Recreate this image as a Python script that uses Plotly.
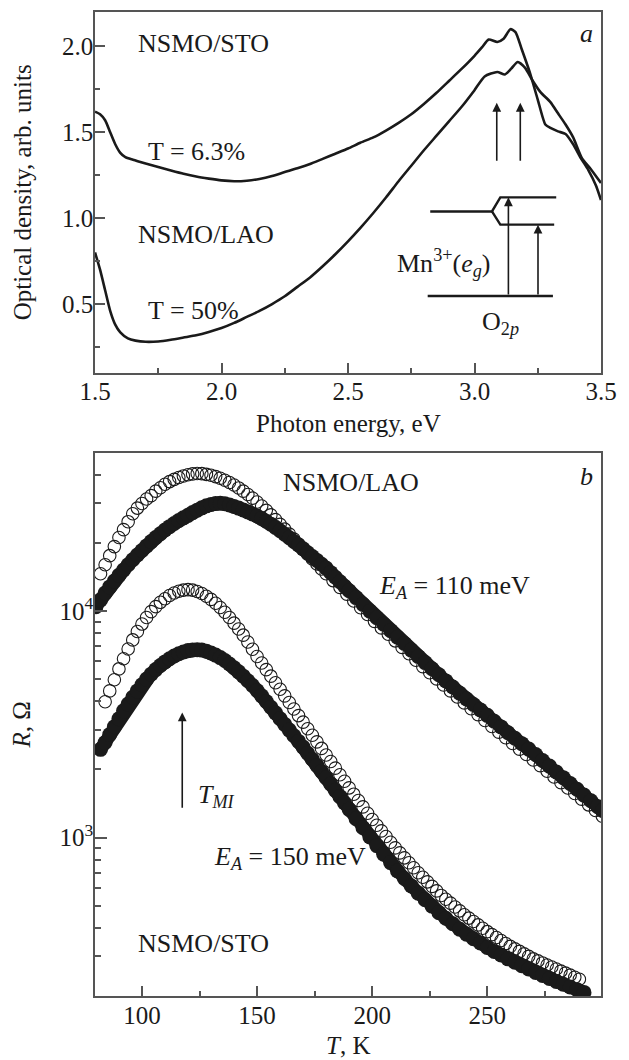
import numpy as np
import plotly.graph_objects as go

FONT = "Liberation Serif"
INK = "#1a1a1a"
AX = "#555555"

# ---------------- panel a : optical density ----------------
E_sto = [1.50, 1.52, 1.54, 1.56, 1.58, 1.60, 1.62, 1.65, 1.70, 1.75, 1.80, 1.85, 1.90, 1.95, 2.00,
         2.05, 2.10, 2.15, 2.20, 2.25, 2.30, 2.35, 2.40, 2.45, 2.50, 2.55, 2.60, 2.65, 2.70, 2.75,
         2.80, 2.85, 2.90, 2.95, 3.00, 3.03, 3.056, 3.09, 3.115, 3.142, 3.162, 3.186, 3.218, 3.25,
         3.28, 3.30, 3.33, 3.36, 3.39, 3.42, 3.45, 3.48, 3.50]
OD_sto = [1.62, 1.605, 1.57, 1.50, 1.43, 1.38, 1.355, 1.34, 1.318, 1.297, 1.277, 1.258, 1.242, 1.23, 1.22,
          1.215, 1.218, 1.228, 1.245, 1.268, 1.29, 1.315, 1.345, 1.375, 1.405, 1.44, 1.47, 1.51, 1.555, 1.605,
          1.665, 1.73, 1.80, 1.87, 1.945, 1.995, 2.04, 2.025, 2.044, 2.10, 2.083, 1.986, 1.851, 1.69,
          1.545, 1.525, 1.505, 1.49, 1.43, 1.35, 1.28, 1.19, 1.105]

E_lao = [1.50, 1.52, 1.54, 1.56, 1.58, 1.60, 1.63, 1.66, 1.70, 1.75, 1.80, 1.85, 1.90, 1.95, 2.00,
         2.05, 2.10, 2.15, 2.20, 2.25, 2.30, 2.35, 2.40, 2.45, 2.50, 2.55, 2.60, 2.65, 2.70, 2.75,
         2.80, 2.85, 2.90, 2.95, 3.00, 3.04, 3.09, 3.12, 3.145, 3.171, 3.20, 3.23, 3.26, 3.30, 3.33,
         3.36, 3.39, 3.425, 3.46, 3.50]
OD_lao = [0.80, 0.70, 0.58, 0.46, 0.38, 0.335, 0.30, 0.287, 0.28, 0.282, 0.292, 0.305, 0.318, 0.337, 0.36,
          0.39, 0.425, 0.46, 0.50, 0.545, 0.60, 0.655, 0.72, 0.79, 0.865, 0.945, 1.03, 1.12, 1.215, 1.305,
          1.395, 1.48, 1.565, 1.65, 1.745, 1.825, 1.851, 1.836, 1.87, 1.909, 1.875, 1.80, 1.735, 1.675, 1.61,
          1.545, 1.47, 1.348, 1.285, 1.204]

# energy-level sketch (panel a, data units)
levels_x = [[2.825, 3.069, 3.102, 3.323], [3.069, 3.102, 3.315], [2.815, 3.310]]
levels_y = [[1.039, 1.039, 1.121, 1.121], [1.039, 0.962, 0.962], [0.547, 0.547]]

# ---------------- panel b : resistance (log10 R) ----------------
T_lao_open = [82, 84, 86, 88, 90, 92, 94, 96, 98, 100, 102, 104, 106, 108, 110, 112, 114, 116, 118, 120,
              122, 124, 126, 128, 130, 132, 134, 136, 138, 140, 142, 144, 146, 148, 150, 152, 154, 156, 158, 160,
              162, 164, 166, 168, 170, 172, 174, 176, 178, 180, 183, 186, 189, 192, 195, 198, 201, 204, 207, 210,
              213, 216, 219, 222, 225, 228, 231, 234, 237, 240, 243, 246, 249, 252, 255, 258, 261, 264, 267, 270,
              273, 276, 279, 282, 285, 288, 291, 294, 297, 300]
log10R_lao_open = [4.165, 4.205, 4.245, 4.285, 4.325, 4.36, 4.395, 4.43, 4.455, 4.475, 4.495, 4.51, 4.53, 4.545,
                   4.56, 4.572, 4.582, 4.59, 4.597, 4.602, 4.606, 4.608, 4.607, 4.604, 4.60, 4.594, 4.587, 4.578,
                   4.568, 4.557, 4.544, 4.53, 4.515, 4.499, 4.482, 4.464, 4.445, 4.425, 4.404, 4.383, 4.362, 4.34,
                   4.318, 4.296, 4.274, 4.252, 4.23, 4.208, 4.186, 4.165, 4.135, 4.105, 4.075, 4.045, 4.015, 3.985,
                   3.955, 3.926, 3.898, 3.869, 3.84, 3.812, 3.783, 3.755, 3.728, 3.701, 3.674, 3.648, 3.621, 3.595,
                   3.569, 3.543, 3.517, 3.491, 3.466, 3.441, 3.416, 3.391, 3.367, 3.343, 3.318, 3.293, 3.268, 3.243,
                   3.219, 3.195, 3.17, 3.145, 3.12, 3.095]

T_lao_fill = [80, 82, 84, 86, 88, 90, 92, 94, 96, 98, 100, 102, 104, 106, 108, 110, 112, 114, 116, 118,
              120, 122, 124, 126, 128, 130, 132, 134, 136, 138, 140, 142, 144, 146, 148, 150, 152, 154, 156, 158,
              160, 162, 164, 166, 168, 170, 172, 174, 176, 178, 180, 182, 184, 186, 188, 190, 193, 196, 199, 202,
              205, 208, 211, 214, 217, 220, 223, 226, 229, 232, 235, 238, 241, 244, 247, 250, 253, 256, 259, 262,
              265, 268, 271, 274, 277, 280, 283, 286, 289, 292, 295, 298, 300]
log10R_lao_fill = [4.02, 4.05, 4.08, 4.107, 4.133, 4.158, 4.182, 4.205, 4.227, 4.248, 4.268, 4.288, 4.307, 4.325,
                   4.342, 4.358, 4.373, 4.387, 4.40, 4.412, 4.423, 4.435, 4.446, 4.456, 4.465, 4.471, 4.475, 4.476,
                   4.474, 4.469, 4.462, 4.455, 4.447, 4.438, 4.429, 4.42, 4.409, 4.397, 4.384, 4.37, 4.355, 4.34,
                   4.324, 4.308, 4.292, 4.275, 4.258, 4.241, 4.224, 4.207, 4.19, 4.17, 4.15, 4.13, 4.11, 4.09,
                   4.06, 4.03, 4.00, 3.971, 3.942, 3.914, 3.885, 3.857, 3.828, 3.80, 3.773, 3.746, 3.719, 3.692,
                   3.665, 3.638, 3.612, 3.588, 3.564, 3.54, 3.514, 3.489, 3.463, 3.439, 3.415, 3.391, 3.367, 3.341,
                   3.316, 3.29, 3.265, 3.239, 3.214, 3.188, 3.163, 3.137, 3.12]

T_sto_open = [84, 86, 88, 90, 92, 94, 96, 98, 100, 102, 104, 106, 108, 110, 112, 114, 116, 118, 120, 122,
              124, 126, 128, 130, 132, 134, 136, 138, 140, 142, 144, 146, 148, 150, 152, 154, 156, 158, 160, 162,
              164, 166, 168, 170, 172, 174, 176, 178, 180, 182, 184, 186, 188, 190, 192, 194, 196, 198, 200, 202,
              204, 206, 208, 210, 212, 214, 216, 218, 220, 222, 224, 226, 228, 230, 232, 234, 236, 238, 240, 242,
              244, 246, 248, 250, 252, 254, 256, 258, 260, 262, 264, 266, 268, 270, 272, 274, 276, 278, 280, 282,
              284, 286, 288, 290]
log10R_sto_open = [3.60, 3.648, 3.697, 3.745, 3.79, 3.833, 3.873, 3.91, 3.943, 3.972, 3.998, 4.02, 4.039, 4.055,
                   4.069, 4.08, 4.088, 4.093, 4.095, 4.093, 4.087, 4.078, 4.066, 4.052, 4.035, 4.016, 3.995, 3.972,
                   3.947, 3.921, 3.894, 3.864, 3.832, 3.80, 3.771, 3.742, 3.713, 3.684, 3.655, 3.626, 3.597, 3.568,
                   3.539, 3.51, 3.481, 3.452, 3.423, 3.394, 3.365, 3.336, 3.307, 3.278, 3.249, 3.22, 3.192, 3.164,
                   3.136, 3.108, 3.08, 3.055, 3.03, 3.005, 2.98, 2.955, 2.933, 2.911, 2.889, 2.867, 2.845, 2.825,
                   2.805, 2.785, 2.765, 2.745, 2.728, 2.711, 2.694, 2.677, 2.66, 2.645, 2.63, 2.615, 2.60, 2.585,
                   2.572, 2.559, 2.546, 2.533, 2.52, 2.509, 2.498, 2.487, 2.476, 2.465, 2.456, 2.447, 2.438, 2.429,
                   2.42, 2.411, 2.402, 2.393, 2.384, 2.375]

T_sto_fill = [82, 84, 86, 88, 90, 92, 94, 96, 98, 100, 102, 104, 106, 108, 110, 112, 114, 116, 118, 120,
              122, 124, 126, 128, 130, 132, 134, 136, 138, 140, 142, 144, 146, 148, 150, 152, 154, 156, 158, 160,
              162, 164, 166, 168, 170, 172, 174, 176, 178, 180, 182, 184, 186, 188, 190, 193, 196, 199, 202, 205,
              208, 211, 214, 217, 220, 223, 226, 229, 232, 235, 238, 241, 244, 247, 250, 253, 256, 259, 262, 265,
              268, 271, 274, 277, 280, 283, 286, 289, 292]
log10R_sto_fill = [3.39, 3.42, 3.455, 3.49, 3.525, 3.56, 3.59, 3.62, 3.648, 3.675, 3.70, 3.722, 3.742, 3.76,
                   3.776, 3.79, 3.802, 3.812, 3.82, 3.826, 3.829, 3.83, 3.828, 3.823, 3.815, 3.806, 3.795, 3.782,
                   3.767, 3.75, 3.732, 3.713, 3.693, 3.672, 3.65, 3.626, 3.601, 3.576, 3.551, 3.525, 3.50, 3.475,
                   3.45, 3.425, 3.40, 3.373, 3.346, 3.319, 3.292, 3.265, 3.237, 3.209, 3.181, 3.153, 3.125, 3.084,
                   3.044, 3.003, 2.965, 2.927, 2.89, 2.853, 2.82, 2.787, 2.755, 2.726, 2.698, 2.669, 2.644, 2.62,
                   2.596, 2.574, 2.554, 2.535, 2.515, 2.498, 2.482, 2.465, 2.45, 2.435, 2.42, 2.405, 2.392, 2.378,
                   2.365, 2.353, 2.341, 2.329, 2.317]

R_major = [1e3, 1e4]
R_major_text = ["10<sup>3</sup>", "10<sup>4</sup>"]
R_minor = [200, 300, 400, 500, 600, 700, 800, 900, 2000, 3000, 4000, 5000, 6000, 7000, 8000, 9000,
           20000, 30000, 40000, 50000]

fig = go.Figure()

# panel a curves
for ex, od in [(E_sto, OD_sto), (E_lao, OD_lao)]:
    fig.add_trace(go.Scatter(x=ex, y=od, mode="lines", xaxis="x", yaxis="y",
                             line=dict(color=INK, width=2.6, shape="spline", smoothing=0.6),
                             showlegend=False, hoverinfo="skip"))
for lx, ly in zip(levels_x, levels_y):
    fig.add_trace(go.Scatter(x=lx, y=ly, mode="lines", xaxis="x", yaxis="y",
                             line=dict(color=INK, width=2.4), showlegend=False, hoverinfo="skip"))

# panel b markers
def series(T, lg, filled):
    R = np.power(10.0, np.array(lg))
    if filled:
        return go.Scatter(x=T, y=R, mode="lines+markers", xaxis="x2", yaxis="y2",
                          line=dict(color=INK, width=13),
                          marker=dict(symbol="circle", size=15, color=INK, line=dict(width=0)),
                          showlegend=False, hoverinfo="skip")
    return go.Scatter(x=T, y=R, mode="markers", xaxis="x2", yaxis="y2",
                      marker=dict(symbol="circle-open", size=12.5, color=INK,
                                  line=dict(width=1.1, color=INK)),
                      showlegend=False, hoverinfo="skip")

fig.add_trace(series(T_lao_open, log10R_lao_open, False))
fig.add_trace(series(T_sto_open, log10R_sto_open, False))
fig.add_trace(series(T_lao_fill, log10R_lao_fill, True))
fig.add_trace(series(T_sto_fill, log10R_sto_fill, True))

TS = 26

def txt(x, y, s, xref="x", yref="y", xanchor="left", size=TS, angle=0, yanchor="middle"):
    return dict(x=x, y=y, xref=xref, yref=yref, text=s, showarrow=False, xanchor=xanchor,
                yanchor=yanchor, textangle=angle, font=dict(family=FONT, size=size, color=INK))

def arrow(x, y0, y1, xref, yref, width=1.6):
    return dict(x=x, y=y1, ax=x, ay=y0, xref=xref, yref=yref, axref=xref, ayref=yref,
                text="", showarrow=True, arrowhead=2, arrowsize=1.1, arrowwidth=width,
                arrowcolor=INK, standoff=0, startstandoff=0)

ann = [
    txt(1.663, 2.017, "NSMO/STO"),
    txt(1.703, 1.387, "T = 6.3%"),
    txt(1.663, 0.904, "NSMO/LAO"),
    txt(1.703, 0.464, "T = 50%"),
    txt(3.442, 2.073, "<i>a</i>", xanchor="center"),
    txt(3.069, 0.737, "Mn<sup>3+</sup>(<i>e</i><sub><i>g</i></sub>)", xanchor="right"),
    txt(3.102, 0.39, "O<sub>2<i>p</i></sub>", xanchor="center"),
    arrow(3.088, 1.325, 1.671, "x", "y"),
    arrow(3.181, 1.325, 1.671, "x", "y"),
    arrow(3.134, 0.547, 1.121, "x", "y"),
    arrow(3.251, 0.547, 0.962, "x", "y"),
    # panel b (log axis -> log10 positions)
    txt(160.3, 4.569, "NSMO/LAO", xref="x2", yref="y2"),
    txt(293.0, 4.593, "<i>b</i>", xref="x2", yref="y2", xanchor="center"),
    txt(202.1, 4.106, "<i>E<sub>A</sub></i> = 110 meV", xref="x2", yref="y2"),
    txt(123.6, 3.185, "<i>T<sub>MI</sub></i>", xref="x2", yref="y2"),
    txt(130.6, 2.912, "<i>E<sub>A</sub></i> = 150 meV", xref="x2", yref="y2"),
    txt(97.5, 2.535, "NSMO/STO", xref="x2", yref="y2"),
    arrow(117.5, 3.126, 3.553, "x2", "y2"),
    # axis titles
    txt(0.5, 0.5822, "Photon energy, eV", xref="paper", yref="paper", xanchor="center", size=25),
    txt(0.5, -0.0507, "<i>T</i>, K", xref="paper", yref="paper", xanchor="center", size=25),
    txt(-0.1443, 0.8167, "Optical density, arb. units", xref="paper", yref="paper",
        xanchor="center", angle=-90, size=25),
    txt(-0.1443, 0.2759, "<i>R</i>, Ω", xref="paper", yref="paper", xanchor="center", angle=-90, size=25),
]

axcommon = dict(showline=True, linecolor=AX, linewidth=1.5, mirror=True, showgrid=False,
                zeroline=False, ticks="inside", tickcolor=AX, tickwidth=1.5,
                tickfont=dict(family=FONT, size=25, color=INK))

fig.update_layout(
    width=629, height=1060,
    margin=dict(l=95, r=28, t=10, b=64),
    paper_bgcolor="white", plot_bgcolor="white",
    showlegend=False,
    annotations=ann,
    xaxis=dict(domain=[0, 1], anchor="y", range=[1.5, 3.5], tick0=0, dtick=0.5, ticklen=10,
               tickformat=".1f", ticklabelstandoff=-4,
               minor=dict(dtick=0.25, ticks="inside", ticklen=5, tickcolor=AX), **axcommon),
    yaxis=dict(domain=[0.6334, 1], anchor="x", range=[0.1, 2.2], tick0=0, dtick=0.5, ticklen=10,
               tickformat=".1f", ticklabelstandoff=-5,
               minor=dict(dtick=0.25, ticks="inside", ticklen=5, tickcolor=AX), **axcommon),
    xaxis2=dict(domain=[0, 1], anchor="y2", range=[79.6, 299.4], tick0=0, dtick=50, ticklen=10,
                ticklabelstandoff=-4,
                minor=dict(dtick=25, ticks="inside", ticklen=5, tickcolor=AX), **axcommon),
    yaxis2=dict(domain=[0, 0.552], anchor="x2", type="log", range=[np.log10(200), np.log10(50000)],
                tickmode="array", tickvals=R_major, ticktext=R_major_text, ticklen=12,
                ticklabelstandoff=-5,
                minor=dict(tickmode="array", tickvals=R_minor, ticks="inside", ticklen=6, tickcolor=AX),
                **axcommon),
)

fig.write_html("out.html")
